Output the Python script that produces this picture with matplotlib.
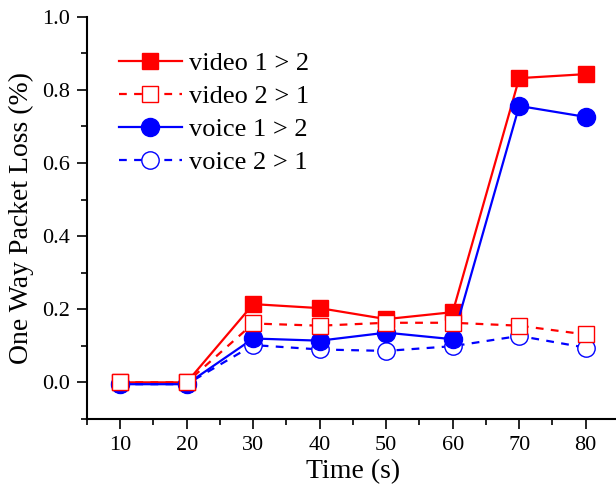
import matplotlib
matplotlib.use("Agg")
import matplotlib.pyplot as plt
from matplotlib.ticker import MultipleLocator

plt.rcParams['font.family'] = ['Liberation Serif', 'DejaVu Serif']

time = [10, 20, 30, 40, 50, 60, 70, 80]
video_12 = [0.0, 0.0, 0.214, 0.203, 0.173, 0.192, 0.832, 0.843]
video_21 = [0.0, 0.0, 0.161, 0.155, 0.163, 0.163, 0.155, 0.131]
voice_12 = [-0.005, -0.005, 0.120, 0.114, 0.136, 0.118, 0.756, 0.726]
voice_21 = [-0.005, -0.005, 0.102, 0.090, 0.086, 0.099, 0.127, 0.095]
labels = ["video 1 > 2", "video 2 > 1", "voice 1 > 2", "voice 2 > 1"]

RED = "#ff0000"
BLUE = "#0000ff"
lw = 1.6
dash = (3.5, 3.3)

fig = plt.figure(figsize=(6.16, 4.86), dpi=100)
ax = fig.add_axes([0.1412, 0.138, 0.8636, 0.8276])

# lines
ax.plot(time, video_12, color=RED, lw=lw, zorder=2)
ax.plot(time, video_21, color=RED, lw=lw, ls=(0, dash), zorder=2)
ax.plot(time, voice_21, color=BLUE, lw=lw, ls=(0, dash), zorder=2)
# markers
ax.plot(time, video_12, ls='none', marker='s', ms=11.5, mfc=RED, mec=RED, zorder=3)
ax.plot(time, voice_12, color=BLUE, lw=lw, zorder=3.5)
ax.plot(time, voice_21, ls='none', marker='o', ms=12.5, mfc='white', mec=BLUE, mew=1.0, zorder=4)
ax.plot(time, voice_12, ls='none', marker='o', ms=13, mfc=BLUE, mec=BLUE, zorder=4.2)
ax.plot(time, video_21, ls='none', marker='s', ms=11.5, mfc='white', mec=RED, mew=1.0, zorder=5)

# legend proxies
h1, = ax.plot([], [], color=RED, lw=lw, marker='s', ms=11.5, mfc=RED, mec=RED)
h2, = ax.plot([], [], color=RED, lw=lw, ls=(0, dash), marker='s', ms=11.5, mfc='white', mec=RED, mew=1.0)
h3, = ax.plot([], [], color=BLUE, lw=lw, marker='o', ms=13, mfc=BLUE, mec=BLUE)
h4, = ax.plot([], [], color=BLUE, lw=lw, ls=(0, dash), marker='o', ms=12.5, mfc='white', mec=BLUE, mew=1.0)
ax.legend([h1, h2, h3, h4], labels, loc='upper left', frameon=False,
          fontsize=19, handlelength=2.4, handletextpad=0.25, labelspacing=0.36,
          bbox_to_anchor=(0.04, 0.94), borderaxespad=0)

ax.set_xlim(5, 85)
ax.set_ylim(-0.1, 1.0)
ax.xaxis.set_major_locator(MultipleLocator(10))
ax.xaxis.set_minor_locator(MultipleLocator(5))
ax.yaxis.set_major_locator(MultipleLocator(0.2))
ax.yaxis.set_minor_locator(MultipleLocator(0.1))
ax.set_xticks(time)
ax.yaxis.set_major_formatter(matplotlib.ticker.FormatStrFormatter('%.1f'))

for s in ['top', 'right']:
    ax.spines[s].set_visible(False)
for s in ['left', 'bottom']:
    ax.spines[s].set_linewidth(1.5)

ax.tick_params(axis='both', which='major', direction='out', length=7, width=1.2, labelsize=16, pad=5)
ax.tick_params(axis='both', which='minor', direction='out', length=4, width=1.2)

ax.set_xlabel("Time (s)", fontsize=20, labelpad=3)
ax.set_ylabel("One Way Packet Loss (%)", fontsize=20, labelpad=6)

fig.savefig("out.png", dpi=100)
